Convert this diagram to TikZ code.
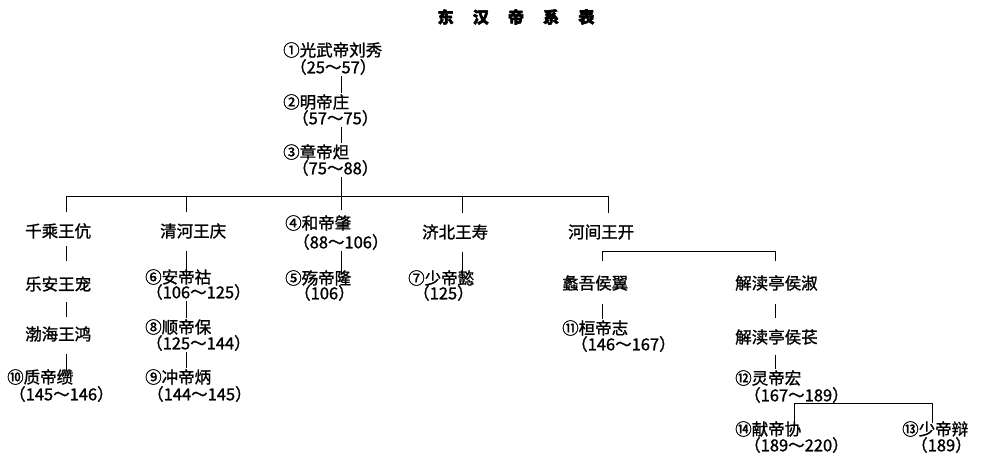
\documentclass[tikz,border=0pt]{standalone}
\usepackage{fontspec}
\newfontfamily\cjk[FakeBold=1.2]{Noto Sans CJK SC}
\newfontfamily\cjkbf[FakeBold=3.5]{Noto Sans CJK SC}
\usetikzlibrary{calc}

\tikzset{
  nm/.style={font=\cjk\fontsize{16.5}{18}\selectfont, inner sep=1pt, anchor=west},
  yr/.style={nm},
  title/.style={font=\cjkbf\fontsize{16}{18}\selectfont\bfseries, inner sep=1pt},
  link/.style={line width=0.9pt},
}

\begin{document}
\begin{tikzpicture}[x=1pt, y=-1pt, color=black]
	\fill[white] (0,0) rectangle (1000,455);
	\useasboundingbox (0,0) rectangle (1000,455);

	\node[title] (title) at (516,17) {东\hspace{1.2em}汉\hspace{1.2em}帝\hspace{1.2em}系\hspace{1.2em}表};

	% main line
	\node[nm] (guangwu) at (282,50) {①光武帝刘秀};
	\node[yr] (guangwu-y) at (289,67) {（25～57）};
	\node[nm] (ming) at (282,102) {②明帝庄};
	\node[yr] (ming-y) at (291,118) {（57～75）};
	\node[nm] (zhang) at (282,152) {③章帝炟};
	\node[yr] (zhang-y) at (291,168) {（75～88）};

	% sons of zhang
	\node[nm] (qiansheng) at (24,231) {千乘王伉};
	\node[nm] (qinghe) at (159,231) {清河王庆};
	\node[nm] (he) at (284,223) {④和帝肇};
	\node[yr] (he-y) at (292,242) {（88～106）};
	\node[nm] (jibei) at (421,232) {济北王寿};
	\node[nm] (hejian) at (567,232) {河间王开};

	\node[nm] (lean) at (24,284) {乐安王宠};
	\node[nm] (bohai) at (24,334) {渤海王鸿};
	\node[nm] (zhi) at (6,377) {⑩质帝缵};
	\node[yr] (zhi-y) at (8,394) {（145～146）};

	\node[nm] (an) at (144,277) {⑥安帝祜};
	\node[yr] (an-y) at (145,292) {（106～125）};
	\node[nm] (shun) at (144,327) {⑧顺帝保};
	\node[yr] (shun-y) at (145,343) {（125～144）};
	\node[nm] (chong) at (144,377) {⑨冲帝炳};
	\node[yr] (chong-y) at (146,394) {（144～145）};

	\node[nm] (shang) at (284,278) {⑤殇帝隆};
	\node[yr] (shang-y) at (293,293) {（106）};

	\node[nm] (shao) at (407,278) {⑦少帝懿};
	\node[yr] (shao-y) at (412,293) {（125）};

	\node[nm] (yiwu) at (561,283) {蠡吾侯翼};
	\node[nm] (shu) at (734,283) {解渎亭侯淑};
	\node[nm] (huan) at (561,328) {⑪桓帝志};
	\node[yr] (huan-y) at (570,344) {（146～167）};
	\node[nm] (chang) at (734,337) {解渎亭侯苌};
	\node[nm] (ling) at (734,378) {⑫灵帝宏};
	\node[yr] (ling-y) at (743,395) {（167～189）};
	\node[nm] (xian) at (734,429) {⑭献帝协};
	\node[yr] (xian-y) at (743,445) {（189～220）};
	\node[nm] (bian) at (901,429) {⑬少帝辩};
	\node[yr] (bian-y) at (910,445) {（189）};

	% columns and bars
	\coordinate (c0) at (341,0);
	\coordinate (c1) at (66,0);
	\coordinate (c2) at (186,0);
	\coordinate (c4) at (462,0);
	\coordinate (c5) at (608,0);
	\coordinate (c6) at (602,0);
	\coordinate (c7) at (775,0);
	\coordinate (c8) at (794,0);
	\coordinate (c9) at (932,0);
	\coordinate (bar) at (0,196);
	\coordinate (fork) at (0,251);
	\coordinate (fork2) at (0,403);

	\draw[link] (guangwu-y.south -| c0) -- (ming.north -| c0);
	\draw[link] (ming-y.south -| c0) -- (zhang.north -| c0);
	\draw[link] (zhang-y.south -| c0) -- (c0 |- bar);
	\draw[link] (c1 |- bar) -- (c5 |- bar);
	\foreach \col/\nm/\gap in {c1/qiansheng/10, c2/qinghe/10, c0/he/4, c4/jibei/10, c5/hejian/10}
		\draw[link, shorten >=\gap pt] (\col |- bar) -- (\nm.north -| \col);

	\draw[link, shorten <=6pt, shorten >=14pt] (qiansheng.south -| c1) -- (lean.north -| c1);
	\draw[link, shorten <=9pt, shorten >=8pt] (lean.south -| c1) -- (bohai.north -| c1);
	\draw[link, shorten <=11pt, shorten >=-3pt] (bohai.south -| c1) -- (zhi.north -| c1);

	\draw[link, shorten <=11pt, shorten >=-8pt] (qinghe.south -| c2) -- (an.north -| c2);
	\draw[link] (an-y.south -| c2) -- (shun.north -| c2);
	\draw[link] (shun-y.south -| c2) -- (chong.north -| c2);

	\draw[link, shorten >=-5pt] (he-y.south -| c0) -- (shang.north -| c0);
	\draw[link, shorten <=11pt, shorten >=-10pt] (jibei.south -| c4) -- (shao.north -| c4);

	\draw[link, shorten <=13pt, shorten >=13pt] (yiwu.north -| c6) -- (c6 |- fork) -- (c7 |- fork) -- (shu.north -| c7);
	\draw[link, shorten <=12pt] (yiwu.south -| c6) -- (huan.north -| c6);
	\draw[link, shorten <=12pt, shorten >=10pt] (shu.south -| c7) -- (chang.north -| c7);
	\draw[link, shorten <=9pt] (chang.south -| c7) -- (ling.north -| c7);
	\draw[link, shorten <=-3pt, shorten >=-3pt] (xian.north -| c8) -- (c8 |- fork2) -- (c9 |- fork2) -- (bian.north -| c9);
\end{tikzpicture}
\end{document}
